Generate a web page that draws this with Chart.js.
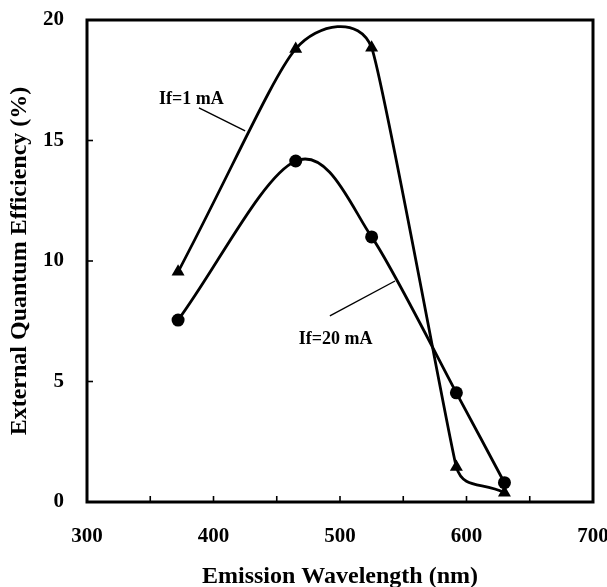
<!DOCTYPE html>
<html lang="en">
  <head>
    <meta charset="utf-8" />
    <title>External Quantum Efficiency vs Emission Wavelength</title>
    <style>
      * {
        margin: 0;
        padding: 0;
      }
      body {
        background: white;
      }
      .chartBox {
        width: 607px;
        height: 587px;
      }
    </style>
  </head>
  <body>
    <div class="chartBox">
      <canvas id="myChart"></canvas>
    </div>
    <script src="https://cdn.jsdelivr.net/npm/chart.js/dist/chart.umd.min.js"></script>
    <script>
      // setup
      const wavelengths = [372, 465, 525, 592, 630];
      const eqe1mA = [9.55, 18.8, 18.85, 1.45, 0.38];
      const eqe20mA = [7.55, 14.15, 11.0, 4.53, 0.8];

      const xTickLabels = [300, 400, 500, 600, 700];
      const yTickLabels = [0, 5, 10, 15, 20];
      const xMinorTicks = [350, 400, 450, 500, 550, 600, 650];
      const yMinorTicks = [5, 10, 15];

      // annotation labels with leader lines (data units)
      const notes = [
        { text: "If=1 mA", x: 382.5, y: 16.72, from: [388.5, 16.35], to: [425, 15.4] },
        { text: "If=20 mA", x: 496.5, y: 6.76, from: [492, 7.72], to: [543.5, 9.17] },
      ];

      const serif = "'Liberation Serif', 'Times New Roman', serif";

      const toPoints = (xs, ys) => xs.map((x, i) => ({ x: x, y: ys[i] }));

      const data = {
        datasets: [
          {
            label: "If=1 mA",
            data: toPoints(wavelengths, eqe1mA),
            showLine: true,
            borderColor: "#000",
            backgroundColor: "#000",
            borderWidth: 2.8,
            tension: 0.45,
            pointStyle: "triangle",
            pointRadius: 7.5,
            pointBorderWidth: 0,
          },
          {
            label: "If=20 mA",
            data: toPoints(wavelengths, eqe20mA),
            showLine: true,
            borderColor: "#000",
            backgroundColor: "#000",
            borderWidth: 2.8,
            tension: 0.33,
            pointStyle: "circle",
            pointRadius: 6.5,
            pointBorderWidth: 0,
          },
        ],
      };

      // smoothing like the original plot: control arms scaled by the shorter
      // neighbouring segment, so long runs stay nearly straight
      const smoothPlugin = {
        id: "smooth",
        beforeDatasetsDraw(chart) {
          chart.data.datasets.forEach((ds, di) => {
            const meta = chart.getDatasetMeta(di);
            const line = meta.dataset;
            const pts = meta.data;
            const t = line.options.tension;
            pts.forEach((p, i) => {
              const prev = pts[i - 1] || p;
              const next = pts[i + 1] || p;
              const tx = next.x - prev.x;
              const ty = next.y - prev.y;
              const len = Math.hypot(tx, ty) || 1;
              const d01 = Math.hypot(p.x - prev.x, p.y - prev.y);
              const d12 = Math.hypot(next.x - p.x, next.y - p.y);
              const d = Math.min(d01 || d12, d12 || d01);
              const k = (t * d) / len;
              p.cp1x = p.x - k * tx;
              p.cp1y = p.y - k * ty;
              p.cp2x = p.x + k * tx;
              p.cp2y = p.y + k * ty;
            });
            line._pointsUpdated = true;
          });
        },
      };

      // frame, inward ticks and annotations
      const framePlugin = {
        id: "frame",
        afterDatasetsDraw(chart) {
          const { ctx, chartArea: a, scales } = chart;
          const xs = scales.x;
          const ys = scales.y;
          ctx.save();
          ctx.strokeStyle = "#000";
          ctx.lineWidth = 1.6;
          xMinorTicks.forEach((v) => {
            const px = xs.getPixelForValue(v);
            ctx.beginPath();
            ctx.moveTo(px, a.bottom);
            ctx.lineTo(px, a.bottom - 6);
            ctx.stroke();
          });
          yMinorTicks.forEach((v) => {
            const py = ys.getPixelForValue(v);
            ctx.beginPath();
            ctx.moveTo(a.left, py);
            ctx.lineTo(a.left + 6, py);
            ctx.stroke();
          });
          ctx.lineWidth = 3;
          ctx.strokeRect(a.left, a.top, a.right - a.left, a.bottom - a.top);

          ctx.lineWidth = 1.4;
          ctx.fillStyle = "#000";
          ctx.font = "bold 18px " + serif;
          ctx.textAlign = "center";
          ctx.textBaseline = "middle";
          notes.forEach((n) => {
            ctx.beginPath();
            ctx.moveTo(xs.getPixelForValue(n.from[0]), ys.getPixelForValue(n.from[1]));
            ctx.lineTo(xs.getPixelForValue(n.to[0]), ys.getPixelForValue(n.to[1]));
            ctx.stroke();
            ctx.fillText(n.text, xs.getPixelForValue(n.x), ys.getPixelForValue(n.y));
          });
          ctx.restore();
        },
      };

      // config
      const config = {
        type: "scatter",
        data,
        options: {
          responsive: true,
          maintainAspectRatio: false,
          animation: false,
          layout: { padding: { left: 0, top: 20, right: 14, bottom: 0 } },
          plugins: {
            legend: { display: false },
            tooltip: { enabled: false },
          },
          scales: {
            x: {
              type: "linear",
              min: 300,
              max: 700,
              grid: { display: false, drawTicks: false },
              border: { display: false },
              afterBuildTicks: (s) => {
                s.ticks = xTickLabels.map((v) => ({ value: v }));
              },
              afterFit: (s) => {
                s.height = 85;
                s.paddingLeft = 0;
                s.paddingRight = 0;
              },
              ticks: {
                color: "#000",
                padding: 22,
                maxRotation: 0,
                font: { family: serif, size: 21, weight: "bold" },
              },
              title: {
                display: true,
                text: "Emission Wavelength (nm)",
                color: "#000",
                padding: { top: 0, bottom: -2 },
                font: { family: serif, size: 24, weight: "bold", lineHeight: 1 },
              },
            },
            y: {
              min: 0,
              max: 20,
              grid: { display: false, drawTicks: false },
              border: { display: false },
              afterBuildTicks: (s) => {
                s.ticks = yTickLabels.map((v) => ({ value: v }));
              },
              afterFit: (s) => {
                s.width = 87;
                s.paddingTop = 0;
                s.paddingBottom = 0;
              },
              ticks: {
                color: "#000",
                padding: 23,
                font: { family: serif, size: 21, weight: "bold" },
              },
              title: {
                display: true,
                text: "External Quantum Efficiency (%)",
                color: "#000",
                padding: { top: 8, bottom: 0 },
                font: { family: serif, size: 24, weight: "bold", lineHeight: 1 },
              },
            },
          },
        },
        plugins: [smoothPlugin, framePlugin],
      };

      // render init block
      const myChart = new Chart(document.getElementById("myChart"), config);
    </script>
  </body>
</html>
